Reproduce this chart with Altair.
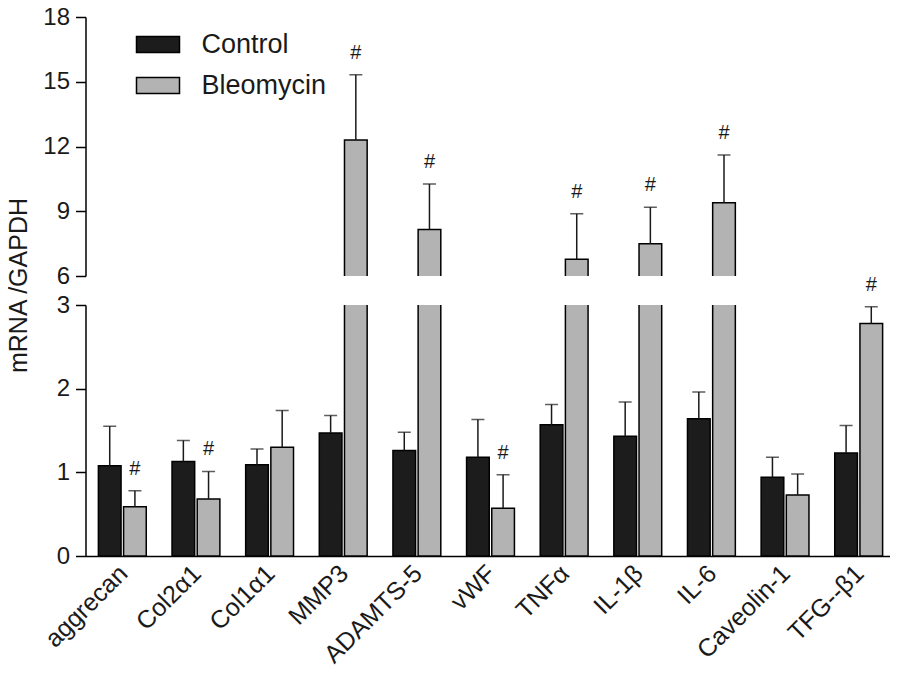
import altair as alt
import pandas as pd

genes = ["aggrecan", "Col2α1", "Col1α1", "MMP3", "ADAMTS-5", "vWF", "TNFα", "IL-1β", "IL-6", "Caveolin-1", "TFG--β1"]
groups = ["Control", "Bleomycin"]
control_mean = [1.08, 1.13, 1.09, 1.47, 1.26, 1.18, 1.57, 1.43, 1.64, 0.94, 1.23]
control_sd = [0.47, 0.25, 0.19, 0.21, 0.22, 0.45, 0.24, 0.41, 0.32, 0.24, 0.33]
bleo_mean = [0.59, 0.68, 1.30, 12.3, 8.15, 0.57, 6.78, 7.5, 9.39, 0.73, 2.78]
bleo_sd = [0.19, 0.33, 0.44, 3.02, 2.11, 0.40, 2.10, 1.69, 2.22, 0.25, 0.20]
bleo_sig = [True, True, False, True, True, True, True, True, True, False, True]
colors = ["#1c1c1c", "#b3b3b3"]

rows = []
for i, g in enumerate(genes):
    rows.append(dict(gene=g, group="Control", mean=control_mean[i],
                     upper=control_mean[i] + control_sd[i], sig=False))
    rows.append(dict(gene=g, group="Bleomycin", mean=bleo_mean[i],
                     upper=bleo_mean[i] + bleo_sd[i], sig=bleo_sig[i]))
df = pd.DataFrame(rows)

FONT = "Liberation Sans"
W = 810


def panel(domain, ticks, height, lower):
    xenc = alt.X("gene:N", sort=genes,
                 scale=alt.Scale(paddingInner=0.35, paddingOuter=0.175),
                 axis=alt.Axis(title=None, labelAngle=-45, labelAlign="right",
                               labelBaseline="middle", labelFontSize=25, labelPadding=13,
                               labelOffset=1,
                               ticks=False, domainColor="black", domainWidth=1.5,
                               labelColor="#1a1a1a", labelFont=FONT) if lower else None)
    xoff = alt.XOffset("group:N", sort=groups, scale=alt.Scale(paddingInner=0.1, paddingOuter=0))
    yscale = alt.Scale(domain=domain, nice=False, zero=False)
    yaxis = alt.Axis(values=ticks, format="d", grid=False, tickSize=10, tickWidth=1.5,
                     tickColor="black", domainColor="black", domainWidth=1.5,
                     labelFontSize=24, labelPadding=6,
                     labelColor="#1a1a1a", labelFont=FONT,
                     title="mRNA /GAPDH" if lower else None,
                     titleFontSize=25, titleFontWeight="normal", titleFont=FONT,
                     titleColor="#1a1a1a", titleAngle=-90, titleX=-67, titleY=-20,
                     titleAlign="center", titleBaseline="middle")
    base = alt.Chart(df)
    bars = base.mark_bar(stroke="black", strokeWidth=1.5, clip=True).encode(
        x=xenc, xOffset=xoff,
        y=alt.Y("mean:Q", scale=yscale, axis=yaxis),
        fill=alt.Fill("group:N", sort=groups,
                      scale=alt.Scale(domain=groups, range=colors),
                      legend=None if lower else alt.Legend(
                          title=None, orient="none", legendX=50, legendY=5,
                          symbolType="M-1,-0.372H1V0.372H-1Z", symbolSize=1849,
                          symbolStrokeColor="black", symbolStrokeWidth=1.5,
                          labelFontSize=27, labelFont=FONT, labelColor="#1a1a1a",
                          labelOffset=21, rowPadding=5)),
    )
    rule = base.mark_rule(color="#1a1a1a", strokeWidth=1.5, clip=True).encode(
        x=xenc, xOffset=xoff, y=alt.Y("mean:Q", scale=yscale), y2="upper:Q")
    cap = base.mark_tick(color="#1a1a1a", thickness=1.5, size=13, clip=True).encode(
        x=xenc, xOffset=xoff, y=alt.Y("upper:Q", scale=yscale))
    if lower:
        hfilter = (alt.datum.sig) & (alt.datum.upper <= 3.5)
    else:
        hfilter = (alt.datum.sig) & (alt.datum.upper > 6)
    hashes = base.mark_text(fontSize=20, font=FONT, color="#1a1a1a", dy=-22,
                            baseline="middle").transform_filter(hfilter).encode(
        x=xenc, xOffset=xoff, y=alt.Y("upper:Q", scale=yscale), text=alt.value("#"))
    return alt.layer(bars, rule, cap, hashes).properties(width=W, height=height)


upper = panel([6, 18], [6, 9, 12, 15, 18], 259, False)
lower = panel([0, 3], [0, 1, 2, 3], 251, True)

chart = alt.vconcat(upper, lower, spacing=29, bounds="flush").resolve_scale(
    y="independent"
).properties(
    padding={"left": -1.5, "top": -3, "right": -6, "bottom": -3.5}
).configure(font=FONT).configure_view(stroke=None, strokeWidth=0)

chart.save("out.html", embed_options={"renderer": "svg", "actions": False})
